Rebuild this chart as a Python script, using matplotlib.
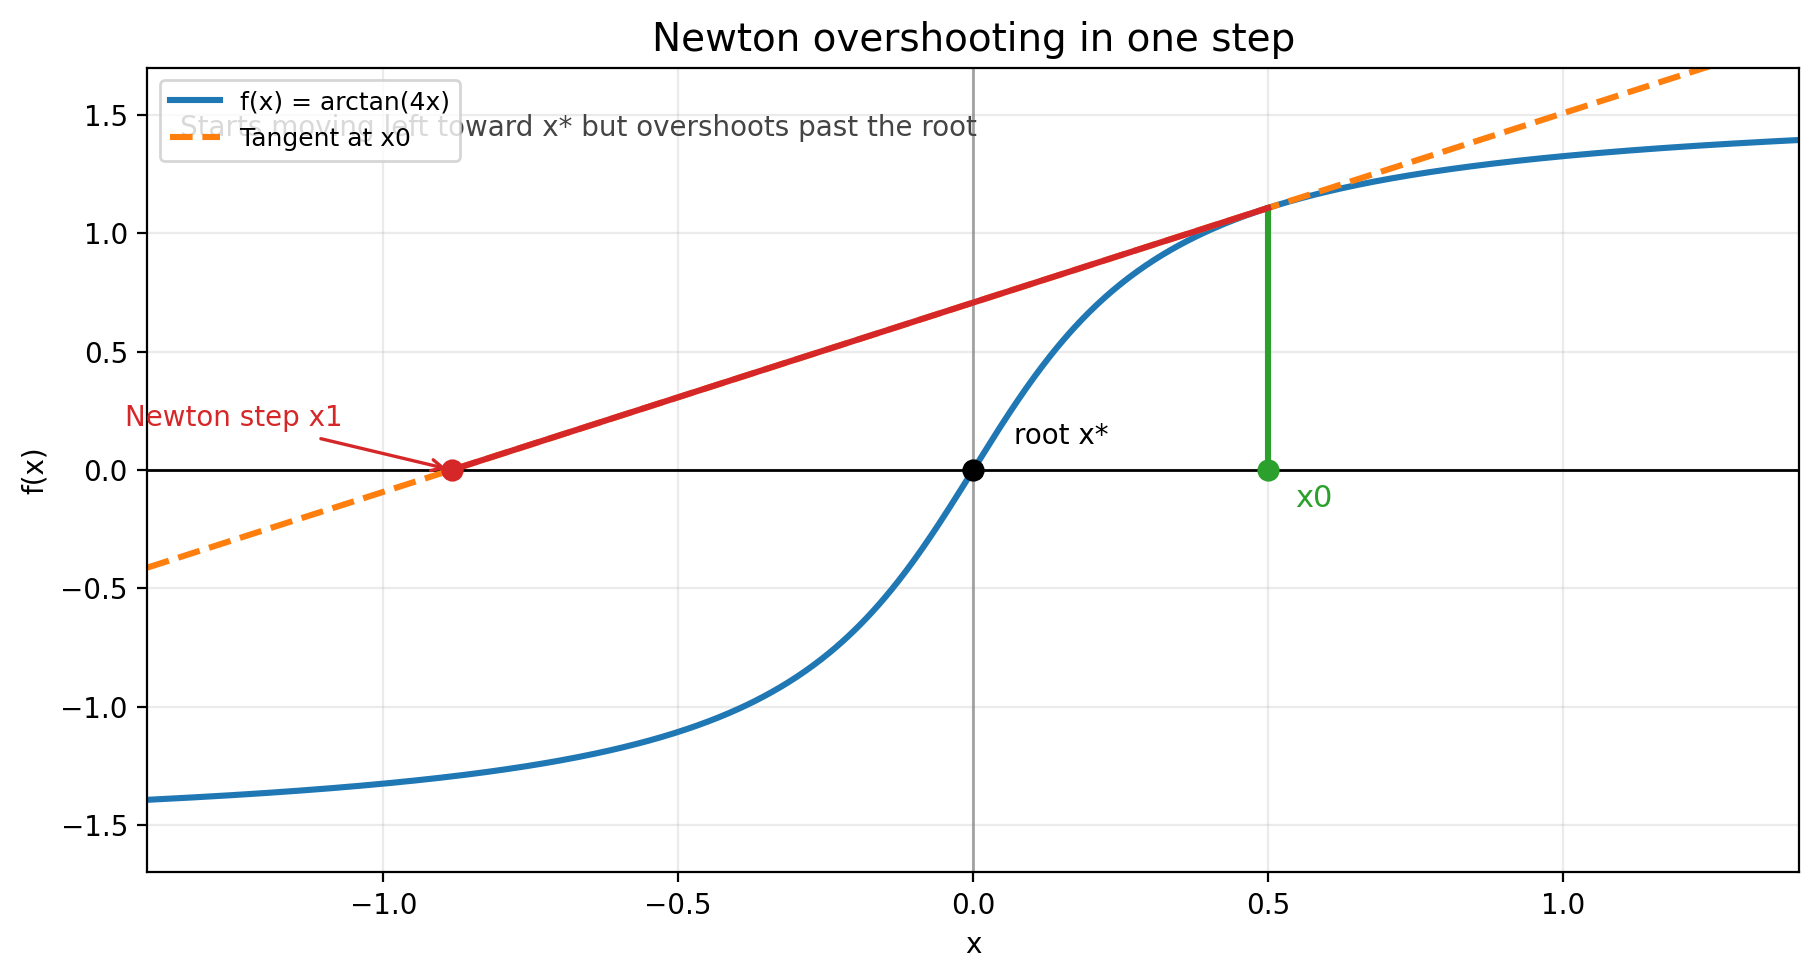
import numpy as np
import matplotlib
matplotlib.use("Agg")
import matplotlib.pyplot as plt

# function and starting point
k = 4.0
x0 = 0.5
x_min, x_max = -1.4, 1.4
y_min, y_max = -1.7, 1.7


def f(x):
    return np.arctan(k * x)


def df(x):
    return k / (1 + (k * x) ** 2)


fx0 = f(x0)
slope = df(x0)
x1 = x0 - fx0 / slope  # newton step

xs = np.linspace(x_min, x_max, 800)
tangent = fx0 + slope * (xs - x0)

fig, ax = plt.subplots(figsize=(9.095, 4.9), dpi=200)

ax.axhline(0, color="black", lw=1)
ax.axvline(0, color="gray", lw=1, alpha=0.7)

ax.plot(xs, f(xs), color="#1f77b4", lw=2.2, label="f(x) = arctan(4x)")
ax.plot(xs, tangent, color="#ff7f0e", lw=2.2, ls="--", label="Tangent at x0")

# step drawn along the tangent
ax.plot([x0, x0], [0, fx0], color="#2ca02c", lw=2.2)
ax.plot([x1, x0], [0, fx0], color="#d62728", lw=2.2)

ax.plot(x0, 0, "o", color="#2ca02c", ms=7, zorder=5)
ax.plot(0, 0, "o", color="black", ms=7, zorder=5)
ax.plot(x1, 0, "o", color="#d62728", ms=7, zorder=5)

ax.text(0.07, 0.145, "root x*", fontsize=10, ha="left", va="center")
ax.text(0.545, -0.12, "x0", fontsize=11, color="#2ca02c", ha="left", va="center")
ax.annotate("Newton step x1", xy=(x1, 0), xytext=(x1 - 0.37, 0.22),
            fontsize=10, color="#d62728", ha="center", va="center",
            arrowprops=dict(arrowstyle="->", color="#d62728", lw=1.2))

ax.text(0.02, 0.925, "Starts moving left toward x* but overshoots past the root",
        transform=ax.transAxes, fontsize=10, color="#444444", va="center")

ax.set_xlim(x_min, x_max)
ax.set_ylim(y_min, y_max)
ax.set_xlabel("x")
ax.set_ylabel("f(x)")
ax.set_title("Newton overshooting in one step", fontsize=14)
ax.grid(True, alpha=0.25)
ax.legend(loc="upper left", fontsize=9)

plt.subplots_adjust(left=0.081, right=0.989, top=0.931, bottom=0.11)
plt.savefig("out.png", dpi=200)
